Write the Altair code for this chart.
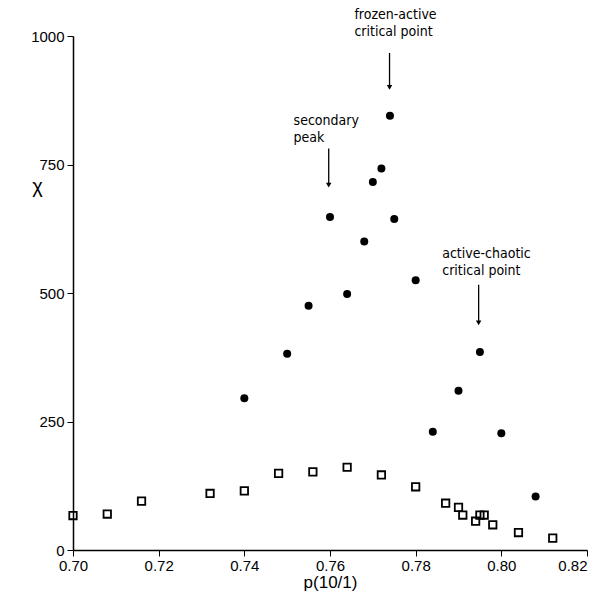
import altair as alt
import pandas as pd

# Filled circles
dot_p = [0.740, 0.750, 0.755, 0.760, 0.764, 0.768, 0.770, 0.772, 0.774, 0.775,
         0.780, 0.784, 0.790, 0.795, 0.800, 0.808]
dot_chi = [295, 382, 475, 648, 498, 600, 716, 742, 845, 644,
           525, 230, 310, 385, 227, 104]

# Open squares
sq_p = [0.700, 0.708, 0.716, 0.732, 0.740, 0.748, 0.756, 0.764, 0.772, 0.780,
        0.787, 0.790, 0.791, 0.794, 0.795, 0.796, 0.798, 0.804, 0.812]
sq_chi = [67, 70, 95, 110, 115, 149, 152, 161, 146, 123,
          91, 83, 68, 56, 68, 68, 49, 34, 23]

x_ticks = [0.70, 0.72, 0.74, 0.76, 0.78, 0.80, 0.82]
y_ticks = [0, 250, 500, 750, 1000]

# Annotations
ann_text = [["frozen-active", "critical point"], ["secondary", "peak"],
            ["active-chaotic", "critical point"]]
ann_x = [0.7657, 0.7515, 0.7862]
ann_y = [1040, 835, 575]
arr_x = [0.7739, 0.7597, 0.7947]
arr_y1 = [967, 781, 516]
arr_y2 = [900, 710, 442]

dots = pd.DataFrame({"p": dot_p, "chi": dot_chi})
squares = pd.DataFrame({"p": sq_p, "chi": sq_chi})
ann = pd.DataFrame({"t": ann_text, "x": ann_x, "y": ann_y})
arr = pd.DataFrame({"x": arr_x, "y1": arr_y1, "y2": arr_y2})

FONT = "DejaVu Sans Condensed"

xs = alt.Scale(domain=[0.70, 0.82])
ys = alt.Scale(domain=[0, 1000])

xax = alt.Axis(values=x_ticks, format=".2f", grid=False, title="p(10/1)",
               labelFontSize=15, titleFontSize=17, titleFontWeight="normal",
               labelColor="black", titleColor="black", domainColor="black",
               tickColor="black", tickSize=6, labelPadding=2, titlePadding=1,
               labelFont="Liberation Sans", titleFont="Liberation Sans",
               domainWidth=1.5, labelFlush=False,
               labelAlign=alt.ExprRef(expr="datum.value >= 0.819 ? 'right' : 'center'"))
yax = alt.Axis(values=y_ticks, format="d", grid=False, title="χ", titleAngle=0,
               titleX=-36, titleY=150, titleAlign="center", titleBaseline="middle",
               labelFontSize=15, titleFontSize=20, titleFontWeight="normal",
               labelColor="black", titleColor="black", domainColor="black",
               tickColor="black", tickSize=6, labelPadding=3,
               labelFont="Liberation Sans", titleFont="Liberation Sans",
               domainWidth=1.5)

base_sq = alt.Chart(squares).mark_point(
    shape="square", filled=False, color="black", size=55, strokeWidth=1.8, opacity=1
).encode(x=alt.X("p:Q", scale=xs, axis=xax), y=alt.Y("chi:Q", scale=ys, axis=yax))

base_dot = alt.Chart(dots).mark_circle(color="black", size=64, opacity=1).encode(
    x=alt.X("p:Q", scale=xs), y=alt.Y("chi:Q", scale=ys))

texts = alt.Chart(ann).mark_text(
    align="left", baseline="middle", font=FONT, fontSize=14, lineHeight=17,
    color="black", clip=False
).encode(x=alt.X("x:Q", scale=xs), y=alt.Y("y:Q", scale=ys), text="t")

shafts = alt.Chart(arr).mark_rule(color="black", strokeWidth=1.3).encode(
    x=alt.X("x:Q", scale=xs), y=alt.Y("y1:Q", scale=ys), y2="y2:Q")

heads = alt.Chart(arr).mark_point(
    shape="triangle-down", filled=True, color="black", size=30, opacity=1
).encode(x=alt.X("x:Q", scale=xs), y=alt.Y("y2:Q", scale=ys))

chart = alt.layer(base_sq, base_dot, shafts, heads, texts).properties(
    width=514, height=514,
    autosize=alt.AutoSizeParams(type="none"),
    padding={"left": 73, "top": 36, "right": 12, "bottom": 58},
    background="white",
).configure_view(stroke=None)

chart.save("out.html", embed_options={"renderer": "svg", "actions": False})
